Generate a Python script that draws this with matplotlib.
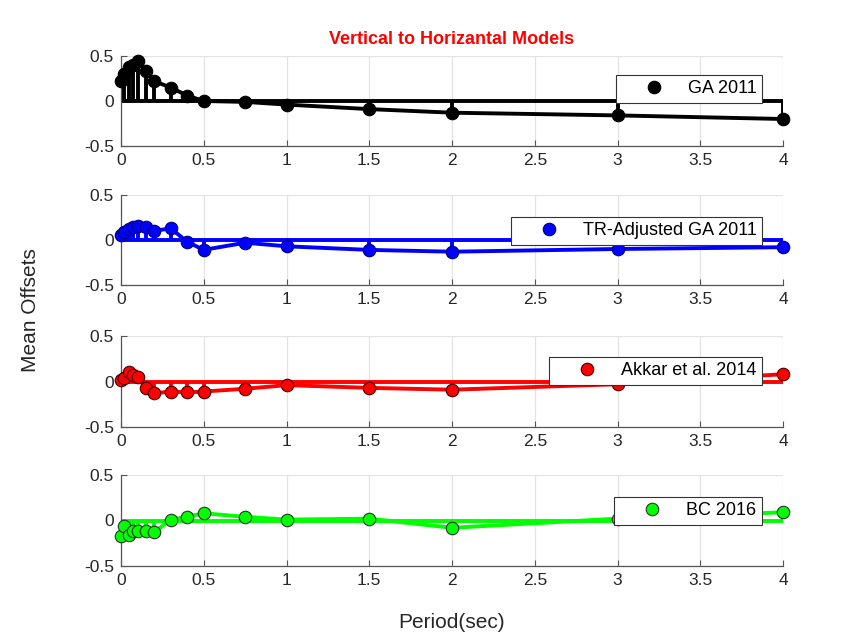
import matplotlib
matplotlib.use("Agg")
import matplotlib.pyplot as plt
from matplotlib.lines import Line2D

plt.rcParams['font.family'] = ['Liberation Sans', 'DejaVu Sans']

periods = [0, 0.02, 0.05, 0.075, 0.1, 0.15, 0.2, 0.3, 0.4, 0.5, 0.75, 1, 1.5, 2, 3, 4]
ga2011 = [0.22, 0.30, 0.38, 0.40, 0.45, 0.33, 0.22, 0.15, 0.06, 0.0, -0.01, -0.04, -0.09, -0.13, -0.16, -0.20]
tr_ga2011 = [0.06, 0.09, 0.12, 0.15, 0.16, 0.15, 0.10, 0.13, -0.02, -0.11, -0.03, -0.07, -0.11, -0.13, -0.10, -0.08]
akkar2014 = [0.02, 0.04, 0.10, 0.07, 0.05, -0.07, -0.13, -0.11, -0.12, -0.11, -0.08, -0.04, -0.07, -0.09, -0.03, 0.08]
bc2016 = [-0.17, -0.06, -0.16, -0.12, -0.11, -0.11, -0.13, 0.01, 0.04, 0.08, 0.04, 0.01, 0.02, -0.08, 0.02, 0.09]

series = [ga2011, tr_ga2011, akkar2014, bc2016]
labels = ["GA 2011", "TR-Adjusted GA 2011", "Akkar et al. 2014", "BC 2016"]
colors = ["#000000", "#0000ff", "#ff0000", "#00ff00"]
edges = ["#000000", "#000080", "#400000", "#303030"]

xticks = [0, 0.5, 1, 1.5, 2, 2.5, 3, 3.5, 4]
xticklabels = ["0", "0.5", "1", "1.5", "2", "2.5", "3", "3.5", "4"]
yticks = [-0.5, 0, 0.5]
yticklabels = ["-0.5", "0", "0.5"]

W, H = 851, 644
fig = plt.figure(figsize=(W / 100, H / 100), dpi=100)

left_px, right_px = 121, 783
panels_px = [(56, 146), (195, 285), (336, 427), (475, 566)]
legend_tops = [0.79, 0.755, 0.77, 0.76]

for i, (top, bot) in enumerate(panels_px):
    ax = fig.add_axes([left_px / W, 1 - bot / H, (right_px - left_px) / W, (bot - top) / H])
    y = series[i]
    c = colors[i]
    lw = 2.8
    ax.axhline(0, color=c, lw=lw, zorder=2)
    ax.vlines(periods, 0, y, color=c, lw=lw, zorder=2)
    ax.plot(periods, y, '-', color=c, lw=lw, zorder=3)
    ax.plot(periods, y, 'o', color=c, ms=9, mec=edges[i], mew=0.8, zorder=4, clip_on=False)
    ax.set_xlim(0, 4)
    ax.set_ylim(-0.5, 0.5)
    ax.set_xticks(xticks)
    ax.set_xticklabels(xticklabels)
    ax.set_yticks(yticks)
    ax.set_yticklabels(yticklabels)
    ax.grid(True, color="#e3e3e3", lw=0.9, zorder=0)
    ax.set_axisbelow(True)
    for s in ['top', 'right']:
        ax.spines[s].set_visible(False)
    for s in ['bottom', 'left']:
        ax.spines[s].set_color("#555555")
        ax.spines[s].set_linewidth(0.9)
    ax.tick_params(direction='in', length=4, color="#555555", labelsize=12.5,
                   labelcolor="#262626", pad=5)
    handle = Line2D([], [], ls='none', marker='o', color=c, ms=9, mec=edges[i], mew=0.8)
    leg = ax.legend([handle], [labels[i]], loc='upper right',
                    bbox_to_anchor=(0.968, legend_tops[i]), fontsize=13,
                    fancybox=False, framealpha=1, edgecolor="#333333",
                    handlelength=3.6, handletextpad=0.08, borderpad=0.3,
                    borderaxespad=0)
    leg.get_frame().set_linewidth(0.8)
    leg.set_zorder(10)
    if i == 0:
        ax.set_title("Vertical to Horizantal Models", color="#ff0000",
                     fontweight='bold', fontsize=13, pad=9)

fig.text(30 / W, 1 - 310 / H, "Mean Offsets", rotation=90, fontsize=15,
         ha='center', va='center', color="#262626")
fig.text(452 / W, 1 - 622 / H, "Period(sec)", fontsize=15,
         ha='center', va='center', color="#262626")

fig.savefig("out.png", dpi=100, facecolor="white")
